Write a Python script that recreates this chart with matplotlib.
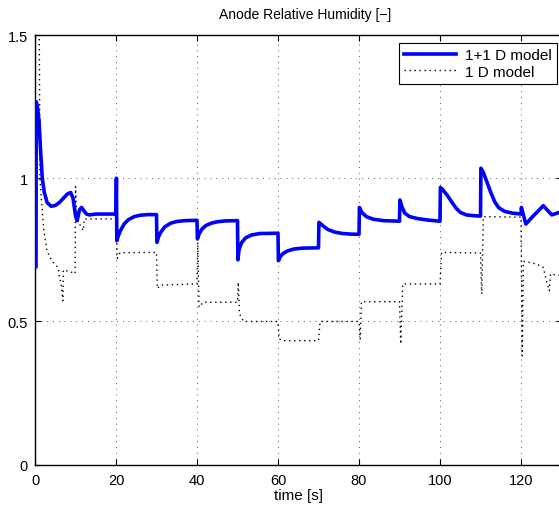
import matplotlib
matplotlib.use("Agg")
import matplotlib.pyplot as plt

# 1+1 D model
t_2d = [0, 0.25, 0.3, 0.6, 1.0, 1.4, 1.8, 2.3, 3.0, 4.0, 5.0, 6.0, 7.0, 8.0, 8.8, 9.4,
        10.0, 10.4, 11.0, 11.5, 12.0, 12.7, 13.5, 15, 20.0,
        20.1, 20.2, 20.6, 21.2, 22, 23, 24.5, 26, 28, 30,
        30.1, 30.5, 31, 32, 33.5, 35, 37, 40,
        40.1, 40.5, 41.2, 42.2, 43.5, 45, 47, 50,
        50.1, 50.4, 51, 52, 53.5, 55.5, 60,
        60.1, 60.5, 61.3, 62.5, 64, 66, 70,
        70.1, 71, 72.3, 74, 76, 78, 80,
        80.1, 80.7, 81.8, 83.5, 86, 90,
        90.1, 90.6, 91.3, 92.5, 94.5, 97, 100,
        100.1, 100.8, 101.8, 103, 104, 105, 106.5, 108.5, 110,
        110.1, 110.7, 111.5, 112.5, 113.5, 114.5, 116, 118, 120,
        120.1, 121.2, 123, 125.5, 127.6, 129.5]
rh_2d = [0.69, 0.69, 1.267, 1.25, 1.2, 1.09, 1.0, 0.95, 0.915, 0.902, 0.905, 0.915, 0.93, 0.945, 0.95, 0.93,
         0.87, 0.852, 0.89, 0.898, 0.888, 0.875, 0.872, 0.875, 0.875,
         1.0, 0.782, 0.80, 0.82, 0.84, 0.855, 0.866, 0.871, 0.873, 0.873,
         0.776, 0.795, 0.81, 0.83, 0.843, 0.849, 0.852, 0.853,
         0.788, 0.805, 0.822, 0.835, 0.843, 0.848, 0.851, 0.852,
         0.715, 0.752, 0.775, 0.792, 0.802, 0.807, 0.808,
         0.712, 0.725, 0.738, 0.747, 0.753, 0.756, 0.757,
         0.846, 0.835, 0.821, 0.812, 0.807, 0.805, 0.804,
         0.898, 0.881, 0.866, 0.857, 0.852, 0.85,
         0.924, 0.90, 0.878, 0.866, 0.859, 0.854, 0.85,
         0.968, 0.958, 0.94, 0.915, 0.895, 0.881, 0.872, 0.869, 0.868,
         1.035, 1.02, 0.99, 0.952, 0.918, 0.897, 0.884, 0.878, 0.875,
         0.898, 0.84, 0.868, 0.904, 0.872, 0.881]

# 1 D model
t_1d = [0, 0.1, 1.0, 1.07, 1.23, 1.5, 1.8, 2.06, 2.47, 2.88, 3.5, 4.5, 5.7, 6.0, 6.5, 6.9,
        7.0, 9.0, 9.9, 10.0, 10.3, 11.0, 11.9, 12.2, 20.0,
        20.3, 21.0, 30.0, 30.2, 31.0, 40.0,
        40.2, 40.5, 41.5, 50.0, 50.2, 50.5, 51.5, 60.0,
        60.3, 61.0, 70.0, 70.4, 80.0,
        80.3, 80.6, 90.0, 90.3, 90.8, 100.0,
        100.4, 110.0, 110.3, 110.7, 120.0,
        120.3, 120.6, 122.2, 123.9, 125.5, 126.3, 127.0, 127.3, 129.5]
rh_1d = [0.0, 1.7, 1.7, 1.47, 1.0, 0.94, 0.887, 0.834, 0.79, 0.753, 0.729, 0.706, 0.689, 0.66, 0.625, 0.572,
         0.68, 0.672, 0.667, 0.97, 0.85, 0.84, 0.817, 0.858, 0.858,
         0.72, 0.74, 0.741, 0.615, 0.627, 0.631,
         0.776, 0.55, 0.567, 0.567, 0.637, 0.526, 0.5, 0.5,
         0.439, 0.433, 0.433, 0.5, 0.5,
         0.439, 0.569, 0.569, 0.421, 0.631, 0.631,
         0.741, 0.739, 0.596, 0.866, 0.864,
         0.38, 0.71, 0.706, 0.70, 0.689, 0.64, 0.607, 0.666, 0.66]

x_ticks = [0, 20, 40, 60, 80, 100, 120]
y_ticks = [0, 0.5, 1, 1.5]
y_tick_labels = ["0", "0.5", "1", "1.5"]

plt.rcParams["font.family"] = ["Liberation Sans", "DejaVu Sans"]
plt.rcParams["font.size"] = 10

fig = plt.figure(figsize=(5.59, 5.10), dpi=100)
ax = fig.add_axes([35 / 559, 44.3 / 510, 130 * 4.05 / 559, 429.7 / 510])

ax.plot(t_2d, rh_2d, color="#0000ff", lw=2.6, label="1+1 D model", zorder=3)
ax.plot(t_1d, rh_1d, color="black", lw=1.0, linestyle=(0, (1, 2.6)), label="1 D model", zorder=2)

ax.set_xlim(0, 130)
ax.set_ylim(0, 1.5)
ax.set_xticks(x_ticks)
ax.set_yticks(y_ticks)
ax.set_yticklabels(y_tick_labels)
ax.tick_params(direction="in", top=True, right=True, length=4, width=0.8, labelsize=10.5)
ax.tick_params(axis="x", pad=6)
ax.tick_params(axis="y", pad=5)
ax.grid(True, color="0.35", linestyle=(0, (1, 5)), lw=0.7)
for s in ax.spines.values():
    s.set_linewidth(1.0)

ax.set_xlabel("time [s]", labelpad=1, fontsize=11)
fig.text(305 / 559, 1 - 15 / 510, "Anode Relative Humidity [\u2212]", ha="center", va="center", fontsize=10)

leg = ax.legend(loc="upper right", bbox_to_anchor=(0.9924, 0.9814), borderaxespad=0,
                fancybox=False, framealpha=1, edgecolor="black", handlelength=3.4,
                handletextpad=0.6, borderpad=0.35, labelspacing=0.15, fontsize=11)
leg.get_frame().set_linewidth(0.8)

fig.savefig("out.png", dpi=100)
